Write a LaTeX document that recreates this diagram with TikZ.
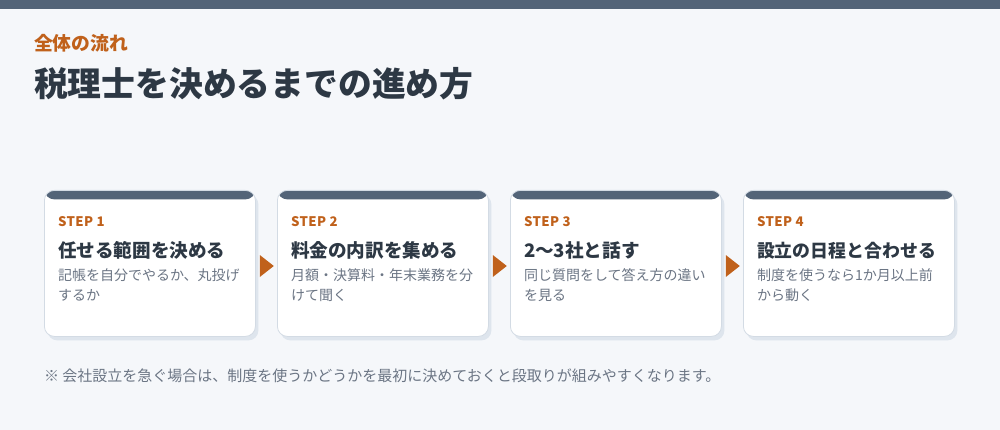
\documentclass[tikz,border=0pt]{standalone}
\usepackage{fontspec}
\setmainfont{Noto Sans CJK JP}
\newfontfamily\stepfont{Noto Sans CJK JP}[LetterSpace=3]
\usetikzlibrary{shadows,calc}
\definecolor{bgc}{HTML}{F5F7FA}
\definecolor{barc}{HTML}{536478}
\definecolor{orangec}{HTML}{C0611B}
\definecolor{darkc}{HTML}{2D3844}
\definecolor{grayc}{HTML}{6B7584}
\definecolor{borderc}{HTML}{D3DBE4}
\definecolor{shadowc}{HTML}{DEE5ED}
\begin{document}
\begin{tikzpicture}[x=1pt,y=-1pt,
  card/.style={draw=borderc, line width=0.8pt, fill=white, rounded corners=10pt,
    minimum width=211pt, minimum height=146pt, inner sep=0pt, anchor=north west,
    general shadow={fill=shadowc, shadow xshift=3pt, shadow yshift=-4pt},
    path picture={\fill[barc] ([yshift=2pt]path picture bounding box.north west) rectangle ([yshift=-9pt]path picture bounding box.north east);}},
  txt/.style={anchor=base west, inner sep=0pt, outer sep=0pt},
  steplbl/.style={txt, font=\stepfont\bfseries\fontsize{13.2}{16}\selectfont, text=orangec},
  steptitle/.style={txt, font=\bfseries\fontsize{18.6}{22}\selectfont, text=darkc},
  stepdesc/.style={txt, align=left, font=\fontsize{14}{20}\selectfont, text=grayc},
  arrowc/.style={fill=orangec}
]
\useasboundingbox (0,0) rectangle (1000,430);
\fill[bgc] (0,0) rectangle (1000,430);
\fill[barc] (0,0) rectangle (1000,9);
\node[txt, font=\bfseries\fontsize{18.8}{22}\selectfont, text=orangec] (kicker) at (34,51) {全体の流れ};
\node[txt, font=\bfseries\fontsize{33.8}{38}\selectfont, text=darkc] (title) at (34,96.5) {税理士を決めるまでの進め方};

\node[card] (c1) at (44,190) {};
\node[card] (c2) at (277,190) {};
\node[card] (c3) at (510,190) {};
\node[card] (c4) at (743,190) {};

\foreach \a/\b in {c1/c2, c2/c3, c3/c4}{
  \fill[arrowc] ($(\a.north east)+(4,65)$) -- ($(\a.north east)+(18,76)$) -- ($(\a.north east)+(4,87)$) -- cycle;
}

\node[steplbl] (s1) at ($(c1.north west)+(14,36.7)$) {STEP 1};
\node[steptitle] (t1) at ($(c1.north west)+(14,67.3)$) {任せる範囲を決める};
\node[stepdesc] (d1) at ($(c1.north west)+(14,110.6)$) {記帳を自分でやるか、丸投げ\\するか};

\node[steplbl] (s2) at ($(c2.north west)+(14,36.7)$) {STEP 2};
\node[steptitle] (t2) at ($(c2.north west)+(14,67.3)$) {料金の内訳を集める};
\node[stepdesc] (d2) at ($(c2.north west)+(14,110.6)$) {月額・決算料・年末業務を分\\けて聞く};

\node[steplbl] (s3) at ($(c3.north west)+(14,36.7)$) {STEP 3};
\node[steptitle] (t3) at ($(c3.north west)+(14,67.3)$) {2〜3社と話す};
\node[stepdesc] (d3) at ($(c3.north west)+(14,110.6)$) {同じ質問をして答え方の違い\\を見る};

\node[steplbl] (s4) at ($(c4.north west)+(14,36.7)$) {STEP 4};
\node[steptitle, font=\bfseries\fontsize{17.9}{22}\selectfont] (t4) at ($(c4.north west)+(14,67)$) {設立の日程と合わせる};
\node[stepdesc] (d4) at ($(c4.north west)+(14,110.6)$) {制度を使うなら1か月以上前\\から動く};

\node[txt, font=\fontsize{15}{18}\selectfont, text=grayc] (note) at (44,381.5) {※ 会社設立を急ぐ場合は、制度を使うかどうかを最初に決めておくと段取りが組みやすくなります。};
\end{tikzpicture}
\end{document}
